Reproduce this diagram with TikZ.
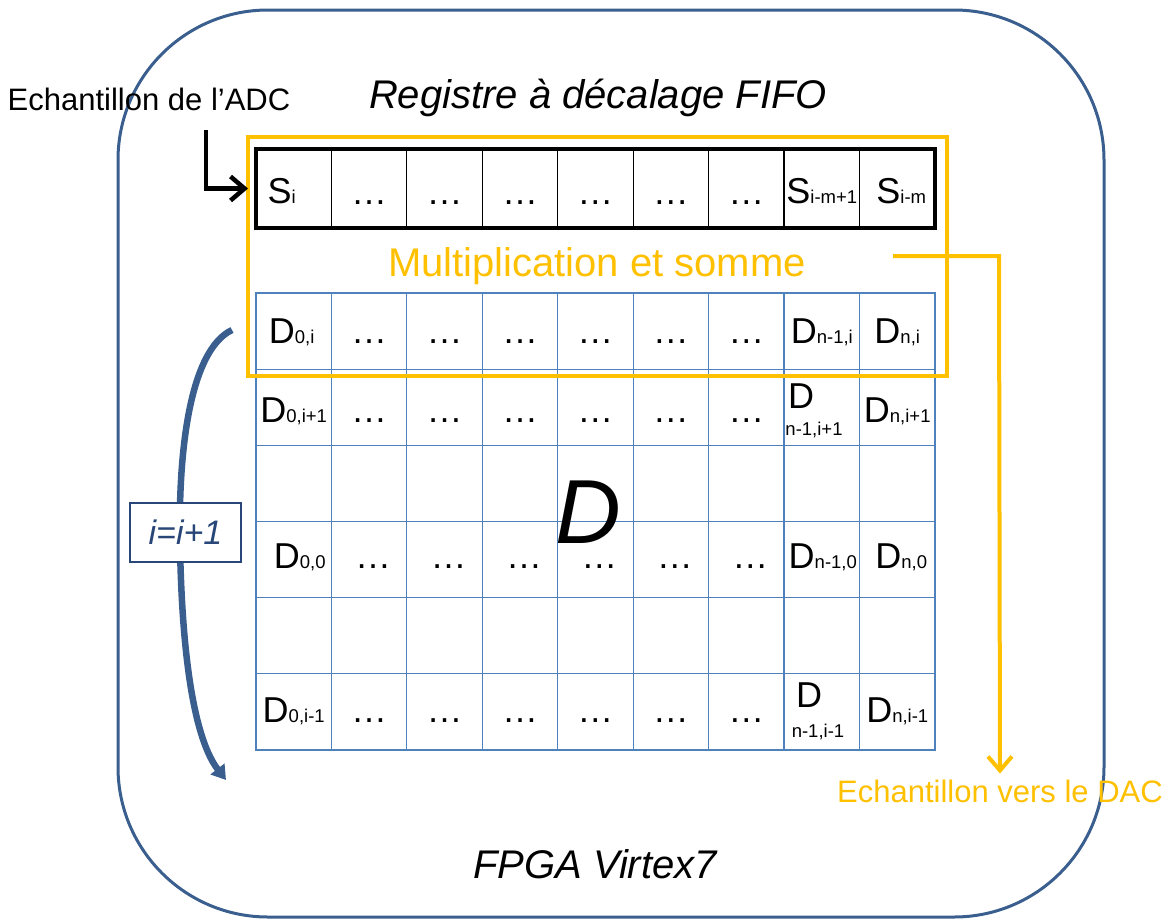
\documentclass[tikz,border=0pt]{standalone}
\usepackage{fontspec}
\setmainfont{Liberation Sans}
\usetikzlibrary{arrows.meta}
\definecolor{fpgablue}{RGB}{58,95,143}
\definecolor{gridblue}{RGB}{79,129,189}
\definecolor{ygold}{RGB}{255,192,0}
\definecolor{boxblue}{RGB}{40,70,120}
\newcommand{\bigf}{\fontsize{36}{36}\selectfont}
\newcommand{\subf}{\fontsize{18.5}{18.5}\selectfont}
\newcommand{\ctxt}[5]{\node[ctext] (t#1-#2) at ({256+75.44*(#2+0.5)+#4},{293+76.17*(#1+0.5)+#5}) {#3};}
\newcommand{\rtxt}[3]{\node[ctext] (s#1) at ({256+75.44*(#1+0.5)+#3},203) {#2};}
\begin{document}
\begin{tikzpicture}[x=1pt,y=-1pt,
  every node/.style={inner sep=0pt,outer sep=0pt},
  cell/.style={draw=gridblue,line width=1.2pt,minimum width=75.44pt,minimum height=76.17pt},
  rcell/.style={draw=black,line width=1.2pt,minimum width=75.44pt,minimum height=79pt},
  ctext/.style={anchor=base,font=\bigf},
  barrow/.style={draw=black,line width=4.5pt,-{Straight Barb[length=14pt,width=24pt]}},
  yarrow/.style={draw=ygold,line width=4pt,-{Straight Barb[length=14pt,width=24pt]}},
  looparrow/.style={draw=fpgablue,line width=6.5pt,-{Triangle[length=14pt,width=17pt]}},
  ibox/.style={draw=boxblue,line width=2.5pt,fill=white,minimum width=111pt,minimum height=59pt,text=boxblue,font=\fontsize{34}{34}\selectfont\itshape}
]
\useasboundingbox (0,0) rectangle (1165,921);
% outer FPGA frame
\draw[fpgablue,line width=3pt,rounded corners=150pt] (118,10) rectangle (1104,917);
\node[anchor=base,font=\fontsize{40}{40}\selectfont\itshape] (title) at (598,108) {Registre à décalage FIFO};
\node[anchor=base,font=\fontsize{40}{40}\selectfont\itshape] (fpga) at (595,878) {FPGA Virtex7};
\node[anchor=base,font=\fontsize{31}{31}\selectfont] (adc) at (149,110) {Echantillon de l’ADC};
\node[anchor=base,font=\fontsize{31}{31}\selectfont,text=ygold] (dac) at (1000,802) {Echantillon vers le DAC};
% grid D
\foreach \r in {0,...,5}{\foreach \c in {0,...,8}{
  \node[cell] (g\r-\c) at ({256+75.44*(\c+0.5)},{293+76.17*(\r+0.5)}) {};}}
\foreach \r/\dy/\dx in {0/12/0,1/15/0,3/9/4,5/11/0}{\foreach \c in {1,...,6}{
  \node[ctext] (t\r-\c) at ({256+75.44*(\c+0.5)+\dx},{293+76.17*(\r+0.5)+\dy}) {…};}}
\ctxt{0}{0}{D{\subf 0,i}}{-2}{12}
\ctxt{0}{7}{D{\subf n-1,i}}{0}{12}
\ctxt{0}{8}{D{\subf n,i}}{0}{12}
\ctxt{1}{0}{D{\subf 0,i+1}}{0}{15}
\ctxt{1}{8}{D{\subf n,i+1}}{0}{15}
\ctxt{3}{0}{D{\subf 0,0}}{6}{9}
\ctxt{3}{7}{D{\subf n-1,0}}{1}{9}
\ctxt{3}{8}{D{\subf n,0}}{4}{9}
\ctxt{5}{0}{D{\subf 0,i-1}}{0}{11}
\ctxt{5}{8}{D{\subf n,i-1}}{0}{11}
\node[ctext] (t1-7a) at (801,408) {D};
\node[anchor=base,font=\subf] (t1-7b) at (814,435) {n-1,i+1};
\node[ctext] (t5-7a) at (809,707) {D};
\node[anchor=base,font=\subf] (t5-7b) at (818,737) {n-1,i-1};
\node[anchor=base,font=\fontsize{91}{91}\selectfont\itshape] (bigD) at (588,543) {D};
% shift register
\foreach \c in {0,...,8}{\node[rcell] (r\c) at ({256+75.44*(\c+0.5)},188.5) {};}
\node[draw=black,line width=4pt,minimum width=679pt,minimum height=79pt] (reg) at (595.5,188.5) {};
\rtxt{0}{S{\subf i}}{-12}
\foreach \c in {1,...,6}{\node[ctext] (s\c) at ({256+75.44*(\c+0.5)},204) {…};}
\rtxt{7}{S{\subf i-m+1}}{0}
\rtxt{8}{S{\subf i-m}}{4}
% multiplication block
\node[draw=ygold,line width=4pt,minimum width=699pt,minimum height=239pt] (ms) at (597.5,256.5) {};
\node[anchor=base,font=\fontsize{40}{40}\selectfont,text=ygold] (mstext) at (597,276) {Multiplication et somme};
% connectors
\coordinate (adcfoot) at (206,130);
\draw[barrow] (adcfoot) |- (ms.west |- reg.west);
\coordinate (msout) at (999,256);
\coordinate (msin) at (893,256);
\draw[yarrow,shorten >=6pt] (msin) -- (msout) -- (dac.north);
\coordinate (loopA) at (232,330);
\coordinate (loopB) at (226,780);
\draw[looparrow] (loopA) .. controls (190,350) and (178,450) .. (180,545) .. controls (182,660) and (195,740) .. (loopB);
\node[ibox] (inc) at (185.5,532.5) {i=i+1};
\end{tikzpicture}
\end{document}
